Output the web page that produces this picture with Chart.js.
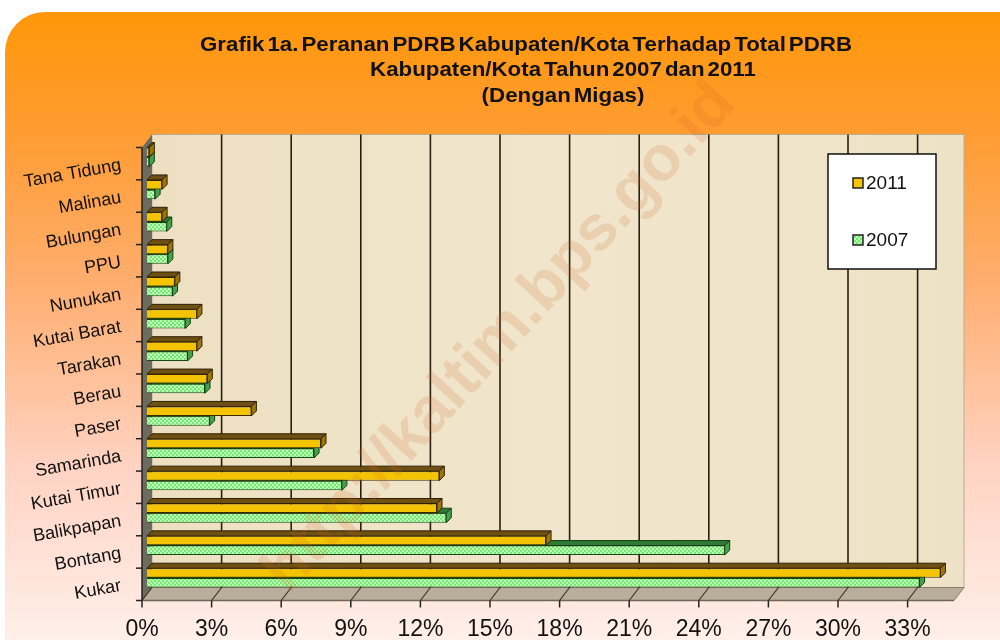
<!DOCTYPE html>
<html><head><meta charset="utf-8">
<script src="https://cdn.jsdelivr.net/npm/chart.js@4.4.1/dist/chart.umd.min.js"></script>
<style>
html,body{margin:0;padding:0;background:#fff;width:1000px;height:640px;overflow:hidden;}
#bg{position:absolute;left:5px;top:12px;width:1010px;height:650px;border-top-left-radius:40px;
background:linear-gradient(to bottom,#FF9709 0%,#FF9C30 18%,#FFAE70 42%,#FFD3C3 70%,#FFF3EE 100%);}
#c{position:absolute;left:0;top:0;}
</style></head><body>
<div id="bg"></div>
<canvas id="c" width="1000" height="640"></canvas>
<script>
const categories = ['Tana Tidung','Malinau','Bulungan','PPU','Nunukan','Kutai Barat','Tarakan','Berau','Paser','Samarinda','Kutai Timur','Balikpapan','Bontang','Kukar'];
const values2011 = [0.1, 0.65, 0.65, 0.9, 1.2, 2.15, 2.15, 2.6, 4.5, 7.5, 12.6, 12.5, 17.2, 34.2];
const values2007 = [0.1, 0.35, 0.85, 0.9, 1.1, 1.65, 1.75, 2.5, 2.7, 7.2, 8.4, 12.9, 24.9, 33.3];
const seriesLabels = ['2011','2007'];
const xTickValues = [0,3,6,9,12,15,18,21,24,27,30,33];
const titleLines = ['Grafik 1a. Peranan PDRB Kabupaten/Kota Terhadap Total PDRB','Kabupaten/Kota Tahun 2007 dan 2011','(Dengan Migas)'];
const watermark = 'http://kaltim.bps.go.id';

function greenPattern(){
  const p = document.createElement('canvas'); p.width = 4; p.height = 4;
  const g = p.getContext('2d');
  g.fillStyle = '#74EA74'; g.fillRect(0,0,4,4);
  g.fillStyle = '#C0FFB8'; g.fillRect(0,0,2,2); g.fillRect(2,2,2,2);
  return g.createPattern(p,'repeat');
}
const ctx0 = document.getElementById('c').getContext('2d');
const gPat = greenPattern();

const capStyles = [
  {top:'#6E5014', end:'#9C7608', edge:'#2E1F00'},
  {top:'#2F7A34', end:'#46A24A', edge:'#113D13'}
];
const D = {dx:10, dy:-13};
const CAP = {dx:5, dy:-5};

const scene3d = {
  id:'scene3d',
  beforeDatasetsDraw(chart){
    const {ctx, chartArea:a, scales:{x}} = chart;
    const hx = D.dx/2, hy = D.dy/2;
    const fL=a.left-hx, fR=a.right-hx, fT=a.top-hy, fB=a.bottom-hy;
    const bL=a.left+hx, bR=a.right+hx, bT=a.top+hy, bB=a.bottom+hy;
    ctx.save();
    const wg = ctx.createLinearGradient(bL,0,bR,0);
    wg.addColorStop(0,'#EDE0C2'); wg.addColorStop(0.5,'#F1E6CD'); wg.addColorStop(1,'#EEE2C6');
    ctx.fillStyle = wg; ctx.fillRect(bL,bT,bR-bL,bB-bT);
    ctx.strokeStyle='#B8AD95'; ctx.lineWidth=1; ctx.strokeRect(bL,bT,bR-bL,bB-bT);
    ctx.beginPath(); ctx.moveTo(fL,fT); ctx.lineTo(bL,bT); ctx.lineTo(bL,bB); ctx.lineTo(fL,fB); ctx.closePath();
    ctx.fillStyle='#6C6B5E'; ctx.fill();
    ctx.beginPath(); ctx.moveTo(fL,fB); ctx.lineTo(fR,fB); ctx.lineTo(bR,bB); ctx.lineTo(bL,bB); ctx.closePath();
    ctx.fillStyle='#B8AE9B'; ctx.fill(); ctx.strokeStyle='#857C6B'; ctx.lineWidth=1; ctx.stroke();
    ctx.beginPath(); ctx.moveTo(fL,fB); ctx.lineTo(fR,fB); ctx.strokeStyle='#6E6657'; ctx.lineWidth=1.5; ctx.stroke();
    xTickValues.forEach(v=>{
      const px = x.getPixelForValue(v);
      if(v>0){ ctx.beginPath(); ctx.moveTo(px+hx,bT); ctx.lineTo(px+hx,bB); ctx.strokeStyle='#2B1E10'; ctx.lineWidth=1.6; ctx.stroke(); }
      ctx.beginPath(); ctx.moveTo(px-hx,fB); ctx.lineTo(px+hx,bB); ctx.strokeStyle='#3A3328'; ctx.lineWidth=1.2; ctx.stroke();
    });
    ctx.restore();
  },
  afterDatasetDraw(chart,args){
    const {ctx} = chart; const st = capStyles[args.index];
    ctx.save(); ctx.lineWidth=1; ctx.strokeStyle=st.edge;
    args.meta.data.forEach(el=>{
      const p = el.getProps(['x','y','base','height'],true);
      const l=p.base, r=p.x, t=p.y-p.height/2, b=p.y+p.height/2;
      ctx.beginPath(); ctx.moveTo(l,t); ctx.lineTo(r,t); ctx.lineTo(r+CAP.dx,t+CAP.dy); ctx.lineTo(l+CAP.dx,t+CAP.dy); ctx.closePath();
      ctx.fillStyle=st.top; ctx.fill(); ctx.stroke();
      ctx.beginPath(); ctx.moveTo(r,t); ctx.lineTo(r+CAP.dx,t+CAP.dy); ctx.lineTo(r+CAP.dx,b+CAP.dy); ctx.lineTo(r,b); ctx.closePath();
      ctx.fillStyle=st.end; ctx.fill(); ctx.stroke();
    });
    ctx.restore();
  },
  afterDraw(chart){
    const {ctx, chartArea:a, scales:{x}} = chart;
    const hx = D.dx/2, hy = D.dy/2;
    ctx.save();
    ctx.strokeStyle='#222'; ctx.lineWidth=1.5;
    ctx.beginPath(); ctx.moveTo(a.left-hx,a.top-hy); ctx.lineTo(a.left-hx,a.bottom-hy); ctx.stroke();
    const n = categories.length, band = (a.bottom-a.top)/n;
    for(let i=0;i<=n;i++){ const yy = a.top + i*band - hy; ctx.beginPath(); ctx.moveTo(a.left-hx-6,yy); ctx.lineTo(a.left-hx,yy); ctx.stroke(); }
    xTickValues.forEach(v=>{ const px=x.getPixelForValue(v)-hx; ctx.beginPath(); ctx.moveTo(px,a.bottom-hy); ctx.lineTo(px,a.bottom-hy+7); ctx.stroke(); });
    // legend
    ctx.fillStyle='#fff'; ctx.fillRect(828,154,108,115);
    ctx.strokeStyle='#111'; ctx.lineWidth=1.5; ctx.strokeRect(828,154,108,115);
    chart.data.datasets.forEach((ds,i)=>{
      const cy = 183 + i*57;
      ctx.fillStyle = ds.backgroundColor; ctx.fillRect(853,cy-5,10,10);
      ctx.strokeStyle='#222'; ctx.lineWidth=1.5; ctx.strokeRect(853,cy-5,10,10);
      ctx.fillStyle='#111'; ctx.font='19px "Liberation Sans", Arial, sans-serif'; ctx.textAlign='left'; ctx.textBaseline='middle';
      ctx.fillText(ds.label, 866, cy+1);
    });
    // title
    ctx.font='bold 21px "Liberation Sans Narrow", "Liberation Sans", Arial, sans-serif';
    try { ctx.wordSpacing = '-3px'; } catch(e) {}
    const sx = 652/ctx.measureText(titleLines[0]).width;
    const centers=[526,563,563], ys=[45,70,96];
    ctx.fillStyle='#111'; ctx.textAlign='center'; ctx.textBaseline='middle';
    titleLines.forEach((t,i)=>{ ctx.save(); ctx.translate(centers[i],ys[i]); ctx.scale(sx,1); ctx.fillText(t,0,0); ctx.restore(); });
    try { ctx.wordSpacing = '0px'; } catch(e) {}
    // watermark
    ctx.translate(500,338); ctx.rotate(-47.5*Math.PI/180);
    ctx.font='bold 64px "Liberation Sans", Arial, sans-serif';
    ctx.fillStyle='rgba(205,100,35,0.17)'; ctx.fillText(watermark,0,0);
    ctx.restore();
  }
};

new Chart(ctx0,{
  type:'bar',
  data:{labels:categories,datasets:[
    {label:seriesLabels[0],data:values2011,backgroundColor:'#F5C400',borderColor:'#3E2A00',borderWidth:1,categoryPercentage:0.6,barPercentage:0.98},
    {label:seriesLabels[1],data:values2007,backgroundColor:gPat,borderColor:'#154815',borderWidth:1,categoryPercentage:0.6,barPercentage:0.98}
  ]},
  options:{
    indexAxis:'y', responsive:false, animation:false,
    layout:{padding:{top:141,right:41,left:0,bottom:0}},
    plugins:{legend:{display:false},tooltip:{enabled:false},title:{display:false}},
    scales:{
      x:{min:0,max:35,grid:{display:false},border:{display:false},
        afterBuildTicks:s=>{ s.ticks = xTickValues.map(v=>({value:v})); },
        afterFit:s=>{ s.height=46; },
        ticks:{callback:v=>v+'%',color:'#111',padding:14,labelOffset:-5,font:{family:'"Liberation Sans", Arial, sans-serif',size:23}}},
      y:{grid:{display:false},border:{display:false},
        afterFit:s=>{ s.width=147; },
        ticks:{color:'#111',padding:18,minRotation:10,maxRotation:10,labelOffset:8,autoSkip:false,font:{family:'"Liberation Sans", Arial, sans-serif',size:18}}}
    }
  },
  plugins:[scene3d]
});
</script>
</body></html>
